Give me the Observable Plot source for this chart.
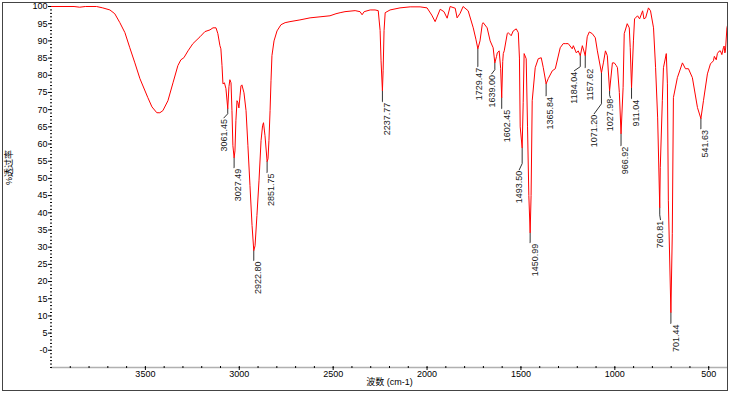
<!DOCTYPE html>
<html><head><meta charset="utf-8">
<script src="https://cdn.jsdelivr.net/npm/d3@7"></script>
<script src="https://cdn.jsdelivr.net/npm/@observablehq/plot@0.6"></script>
<style>
body{margin:0;background:#fff;}
#wrap{position:relative;width:731px;height:394px;overflow:hidden;}
#border{position:absolute;left:2px;top:2px;width:724px;height:387px;border:1px solid #444;pointer-events:none;}
</style></head><body><div id="wrap"><div id="chart"></div><div id="border"></div></div>
<script>
// Spectrum (wavenumber cm-1, % transmittance)
const wavenumbers = [
4000,3960,3880,3850,3820,3760,3727,3689,3663,3636,3609,3583,3556,3529,3487,3465,3439,3423,3407,3380,
3353,3327,3311,3295,3273,3247,3209,3183,3156,3140,3124,3114,3103,3098,3092,3087,3079,3071,3061.45,3055,
3050,3044,3039,3034,3027.49,3023,3018,3012,3007,3002,2996,2991,2986,2975,2964,2954,2943,2932,2922.8,2916,
2906,2895,2884,2876,2871,2863,2851.75,2847,2842,2836,2831,2826,2815,2799,2778,2756,2730,2677,2623,2570,
2517,2485,2463,2437,2383,2357,2346,2335,2303,2277,2260,2250,2245,2237.77,2234,2229,2223,2197,2144,2090,
2037,2000,1975,1957,1930,1910,1893,1877,1850,1840,1824,1808,1781,1754,1740,1729.47,1718,1706,1701,1680,
1664,1648,1639,1630,1626,1616,1608,1602.45,1597,1594,1589,1573,1568,1552,1541,1525,1514,1508,1504,1493.5,
1488,1483,1472,1465,1458,1450.99,1446,1440,1424,1408,1392,1381,1365.84,1355,1333,1317,1291,1275,1264,1248,
1227,1221,1205,1195,1184.04,1173,1157.62,1147,1136,1120,1104,1093,1071.2,1061,1050,1040,1027.98,1013,1003,992,
986,976,966.92,956,950,934,923,918,911.04,901,895,879,868,852,845,836,821,810,794,783,772,760.81,758,747,
741,726,720,715,701.44,694,688,667,640,624,608,587,560,541.63,528,507,491,475,470,460,454,445,438,430,
422,418,414,411,403,400];
const transmittance = [
100,100,100,99.8,100,100,99.6,99.0,97.9,95.3,92.4,88.0,83.6,79.0,73.5,70.8,69.1,69.1,69.7,72.6,
77.8,82.8,84.5,85.1,87.1,89.2,91.2,92.7,93.2,93.8,93.8,92.1,88.6,87.7,82.8,77.5,77.8,76.1,70.3,76.7,
78.7,77.8,69.7,59.5,56.0,58.0,66.8,72.6,72.0,70.5,74.0,76.9,77.2,74.9,69.7,59.5,47.9,36.3,29.0,30.4,
39.2,49.3,61.0,65.3,66.2,62.4,54.9,55.7,61.0,69.7,78.4,85.7,90.0,92.9,94.7,95.3,95.6,96.1,96.7,97.0,
97.3,97.9,98.2,98.5,98.8,98.5,97.6,98.5,99.0,99.0,98.8,93.0,84.2,75.5,81.3,93.0,98.2,99.0,99.6,99.9,
99.9,99.6,97.5,95.6,99.2,98.5,96.6,100,99.5,96.7,98.0,100,98.75,93.8,90.5,87.7,90.0,94.8,95.3,93.8,
90.0,88.0,83.6,85.5,86.5,87.1,82.0,73.5,84.0,86.3,87.1,92.1,92.4,91.5,92.9,93.5,92.4,85.0,65.0,58.9,
72.0,86.3,84.8,65.0,45.0,34.2,45.0,72.6,82.2,84.8,85.1,82.2,77.5,79.0,81.3,81.9,88.0,89.2,89.2,89.2,
87.7,88.6,86.5,87.1,85.7,88.6,85.7,91.2,92.6,92.1,90.9,87.1,80.7,83.6,87.1,85.7,75.5,83.6,83.6,82.8,
82.2,75.0,63.0,76.4,92.1,95.0,93.8,88.0,76.4,90.0,96.4,97.3,96.4,98.75,96.4,96.7,99.6,98.75,93.8,82.2,67.6,41.5,53.1,72.6,
82.2,86.3,77.5,43.5,11.0,33.9,73.5,79.3,83.6,81.9,81.9,79.3,70.6,67.4,72.6,80.4,83.3,84.2,85.5,84.5,86.3,87.0,87.1,86.0,
88.0,88.5,86.5,87.1,93.8,94.5];

// Peak annotations
const peakLabels = ["3061.45","3027.49","2922.80","2851.75","2237.77","1729.47","1639.00","1602.45","1493.50","1450.99",
  "1365.84","1184.04","1157.62","1071.20","1027.98","966.92","911.04","760.81","701.44","541.63"];
const peakWn = [3061.45,3027.49,2922.80,2851.75,2237.77,1729.47,1639.00,1602.45,1493.50,1450.99,
  1365.84,1184.04,1157.62,1071.20,1027.98,966.92,911.04,760.81,701.44,541.63];
const peakT = [70.3,56.0,29.0,54.9,75.5,87.7,83.6,73.5,58.9,34.2,77.5,85.7,85.7,80.7,75.5,63.0,76.4,41.5,11.0,67.4];
const pointerBendT = [68.8,53.1,26.1,51.7,72.3,82.5,81.6,70.3,54.3,31.3,74.0,82.5,82.2,71.7,74.3,59.5,73.2,39.4,7.8,64.4];
const labelT = [67.6,53.1,26.1,51.7,72.3,82.5,80.4,70.3,52.5,31.3,74.0,81.3,82.2,68.8,73.5,59.5,73.2,38.0,7.8,64.4];
const labelWn = [3082,3004,2898,2828,2215,1725,1656,1576,1509,1424,1344,1216,1133,1110,1024,944,886,757,675,518];

const xTicks = [3500,3000,2500,2000,1500,1000,500];
const xMinorTicks = [3900,3800,3700,3600,3500,3400,3300,3200,3100,3000,2900,2800,2700,2600,2500,2400,2300,2200,2100,2000,
  1900,1800,1700,1600,1500,1400,1300,1200,1100,1000,900,800,700,600,500,400];
const yTicks = [0,5,10,15,20,25,30,35,40,45,50,55,60,65,70,75,80,85,90,95,100];
const yTickLabels = ["-0","5","10","15","20","25","30","35","40","45","50","55","60","65","70","75","80","85","90","95","100"];
const yMinorTicks = d3.range(-5, 101, 1);
const xLabel = "波数 (cm-1)";
const yLabel = "%透过率";

const spectrum = wavenumbers.map((w, i) => ({w, t: transmittance[i]}));
const peaks = peakLabels.map((label, i) => ({label, wn: peakWn[i], t: peakT[i], bend: pointerBendT[i], lt: labelT[i], lw: labelWn[i]}));
const pointers = peaks.flatMap((p, i) => {
  const slanted = p.bend !== p.lt;
  return [
    {k: i, x: p.wn, y: p.t},
    {k: i, x: p.wn, y: p.bend},
    {k: i, x: slanted ? p.lw : p.wn, y: p.lt}
  ];
});

const font = "'Liberation Sans', Arial, 'Noto Sans CJK SC', sans-serif";
const chart = Plot.plot({
  width: 731, height: 394,
  marginLeft: 51, marginRight: 4, marginTop: 6, marginBottom: 27,
  style: {fontFamily: font, fontSize: "9px", background: "white", color: "#000"},
  x: {domain: [4000, 400]},
  y: {domain: [-5, 100]},
  marks: [
    Plot.ruleY([-5], {stroke: "#b0b0b0", strokeWidth: 1.5}),
    Plot.axisX({ticks: xMinorTicks, tickSize: 2, text: null, dy: -1, label: null}),
    Plot.axisX({ticks: xTicks, tickSize: 3, tickPadding: 0, tickFormat: d => String(d), label: null}),
    Plot.axisY({ticks: yMinorTicks, tickSize: 2, text: null, dx: 1, label: null}),
    Plot.axisY({ticks: yTicks, tickSize: 3, tickPadding: 1, tickFormat: d => yTickLabels[yTicks.indexOf(d)], label: null}),
    Plot.line(pointers, {x: "x", y: "y", z: "k", stroke: "#333", strokeWidth: 1}),
    Plot.line(spectrum, {x: "w", y: "t", stroke: "#ff0000", strokeWidth: 1}),
    Plot.text(peaks, {x: "lw", y: "lt", text: "label", rotate: -90, textAnchor: "end", lineAnchor: "middle", dy: 1, fill: "#222", fontSize: 9}),
    Plot.text([xLabel], {frameAnchor: "bottom", dy: 17, fill: "#000", fontSize: 9}),
    Plot.text([yLabel], {frameAnchor: "left", rotate: -90, dx: -42, dy: -2, fill: "#000", fontSize: 9})
  ]
});
document.getElementById("chart").appendChild(chart);
</script></body></html>
